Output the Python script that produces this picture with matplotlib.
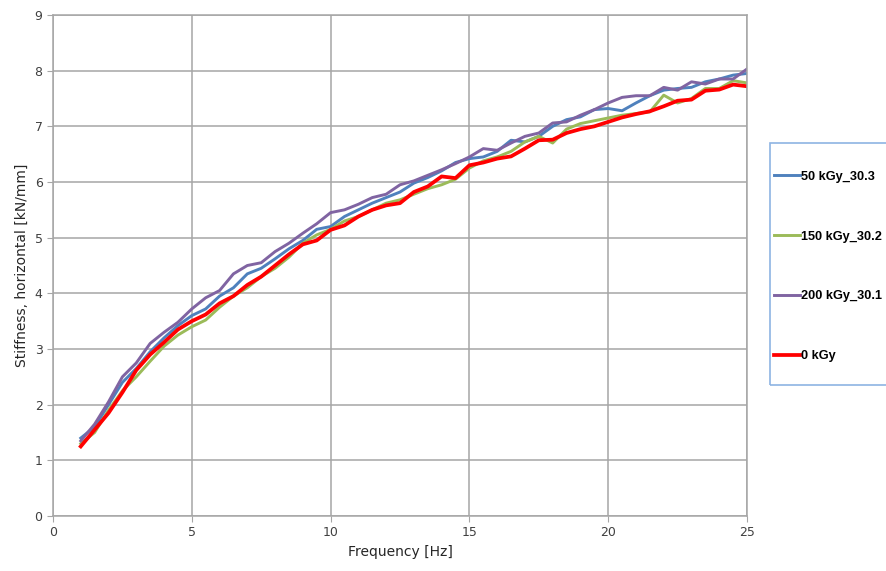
import numpy as np
import matplotlib

matplotlib.use("Agg")
import matplotlib.pyplot as plt
from matplotlib.patches import Rectangle

freq = np.arange(1.0, 25.01, 0.5)

stiff_50 = [1.40, 1.60, 2.00, 2.40, 2.65, 2.95, 3.20, 3.42, 3.60, 3.72,
            3.95, 4.10, 4.35, 4.45, 4.62, 4.80, 4.95, 5.15, 5.20, 5.38,
            5.50, 5.62, 5.72, 5.82, 5.98, 6.08, 6.20, 6.35, 6.42, 6.45,
            6.55, 6.75, 6.72, 6.82, 7.00, 7.12, 7.17, 7.30, 7.32, 7.28,
            7.42, 7.55, 7.65, 7.68, 7.70, 7.80, 7.85, 7.92, 7.95]
stiff_150 = [1.30, 1.50, 1.90, 2.25, 2.50, 2.78, 3.05, 3.25, 3.40, 3.52,
             3.75, 3.95, 4.10, 4.30, 4.45, 4.65, 4.90, 5.05, 5.15, 5.30,
             5.38, 5.50, 5.62, 5.68, 5.78, 5.88, 5.95, 6.05, 6.25, 6.38,
             6.45, 6.55, 6.72, 6.82, 6.70, 6.95, 7.05, 7.10, 7.15, 7.20,
             7.23, 7.26, 7.56, 7.42, 7.50, 7.68, 7.68, 7.82, 7.78]
stiff_200 = [1.35, 1.65, 2.05, 2.50, 2.75, 3.10, 3.30, 3.48, 3.72, 3.92,
             4.05, 4.35, 4.50, 4.55, 4.75, 4.90, 5.08, 5.25, 5.45, 5.50,
             5.60, 5.72, 5.78, 5.95, 6.02, 6.12, 6.22, 6.33, 6.45, 6.60,
             6.57, 6.70, 6.82, 6.88, 7.06, 7.08, 7.20, 7.30, 7.42, 7.52,
             7.55, 7.55, 7.70, 7.65, 7.80, 7.76, 7.85, 7.85, 8.03]
stiff_0 = [1.25, 1.55, 1.85, 2.22, 2.62, 2.90, 3.12, 3.35, 3.50, 3.62,
           3.82, 3.95, 4.15, 4.30, 4.50, 4.70, 4.88, 4.95, 5.14, 5.22,
           5.38, 5.50, 5.58, 5.62, 5.82, 5.92, 6.10, 6.07, 6.30, 6.35,
           6.42, 6.46, 6.60, 6.75, 6.76, 6.88, 6.95, 7.00, 7.08, 7.16,
           7.22, 7.27, 7.36, 7.46, 7.48, 7.64, 7.66, 7.75, 7.72]

series = [
    ("50 kGy_30.3", stiff_50, "#4F81BD", 2.1),
    ("150 kGy_30.2", stiff_150, "#9BBB59", 2.1),
    ("200 kGy_30.1", stiff_200, "#8064A2", 2.1),
    ("0 kGy", stiff_0, "#FF0000", 2.7),
]

fig = plt.figure(figsize=(8.87, 5.71), dpi=100)
ax = fig.add_axes([53 / 887, 1 - 516 / 571, 694 / 887, 501 / 571])

handles = []
for label, values, color, lw in series:
    (line,) = ax.plot(freq, values, color=color, lw=lw, label=label)
    handles.append(line)

ax.set_xlim(0, 25)
ax.set_ylim(0, 9)
ax.set_xticks(range(0, 26, 5))
ax.set_yticks(range(0, 10))
ax.grid(True, color="#A6A6A6", lw=1.1)
ax.set_axisbelow(True)
for spine in ax.spines.values():
    spine.set_color("#A6A6A6")
    spine.set_linewidth(1.1)
ax.tick_params(colors="#404040", labelsize=9, length=4, color="#A6A6A6")
ax.set_xlabel("Frequency [Hz]", fontsize=10, color="#262626")
ax.set_ylabel("Stiffness, horizontal [kN/mm]", fontsize=10, color="#262626")

fig.patches.append(Rectangle((770 / 887, 1 - 385 / 571), 120 / 887, 242 / 571,
                             transform=fig.transFigure, fill=False,
                             edgecolor="#8EB4E3", lw=1.2))
fig.legend(handles=handles, loc="center left",
           bbox_to_anchor=(774 / 887, 1 - 266.5 / 571),
           frameon=False, labelspacing=3.75, borderaxespad=0, borderpad=0,
           handlelength=2.0, handletextpad=0.1,
           prop={"family": "Liberation Sans", "weight": "bold", "size": 9.2})

fig.savefig("out.png", dpi=100)
